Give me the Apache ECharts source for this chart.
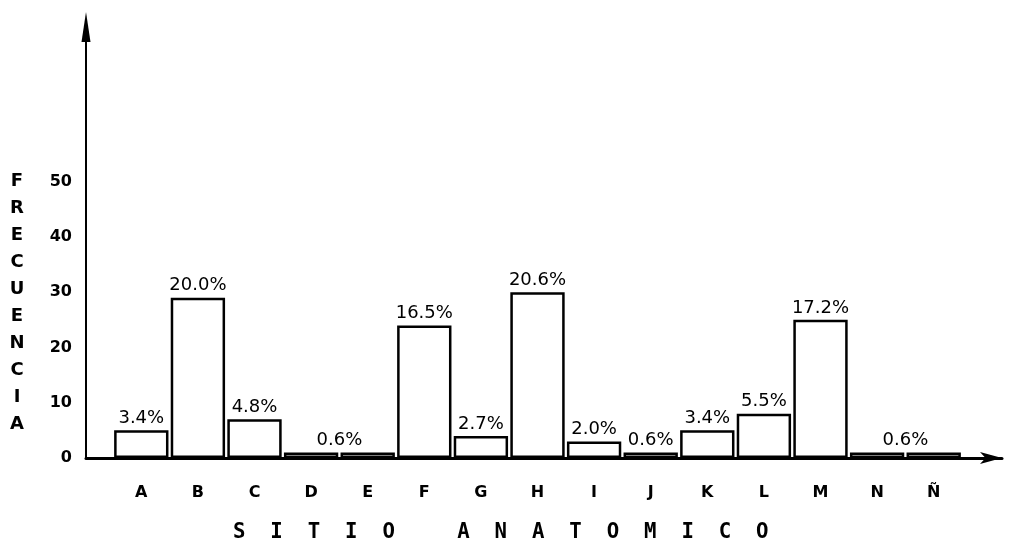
<!DOCTYPE html>
<html>
<head>
<meta charset="utf-8">
<script src="https://cdn.jsdelivr.net/npm/echarts@6/dist/echarts.min.js"></script>
<style>
html,body{margin:0;padding:0;background:#fff;}
#chart{width:1016px;height:544px;}
</style>
</head>
<body>
<div id="chart"></div>
<script>
// ---- data ----
const categories = ['A','B','C','D','E','F','G','H','I','J','K','L','M','N','Ñ'];
const frequencies = [5, 29, 7, 1, 1, 24, 4, 30, 3, 1, 5, 8, 25, 1, 1];
const percentLabels = ['3.4%','20.0%','4.8%','0.6%','','16.5%','2.7%','20.6%','2.0%','0.6%','3.4%','5.5%','17.2%','0.6%',''];
// labels that are shared by two adjacent bars (D+E, N+Ñ)
const sharedLabelIndex = [3, 13];
const yTicks = [0, 10, 20, 30, 40, 50];
const yTitle = 'FRECUENCIA';
const xTitle = 'SITIO ANATOMICO';

// ---- layout ----
const W = 1016;
const barLeft = 113, barRight = 54;
const catWidth = (W - barLeft - barRight) / categories.length;
const yMax = 78;

const barData = frequencies.map((v, i) => {
  const item = { value: v, label: { formatter: percentLabels[i] } };
  if (sharedLabelIndex.includes(i)) item.label.offset = [catWidth / 2, 0];
  return item;
});

const chart = echarts.init(document.getElementById('chart'), null, { renderer: 'canvas' });
chart.setOption({
  backgroundColor: '#ffffff',
  animation: false,
  title: [
    {
      text: yTitle.split('').join('\n'),
      left: 17, top: 168, padding: 0,
      textAlign: 'center',
      textStyle: { fontFamily: 'DejaVu Sans', fontWeight: 'bold', fontSize: 18, lineHeight: 27, color: '#000' }
    },
    {
      text: xTitle.split(' ').map(w => w.split('').join('  ')).join('     '),
      left: 233, top: 522, padding: 0,
      textStyle: { fontFamily: 'DejaVu Sans Mono', fontWeight: 'bold', fontSize: 20.7, color: '#000' }
    }
  ],
  grid: [
    { left: barLeft, right: barRight, top: 27, bottom: 86 },
    { left: 86, right: 14, top: 27, bottom: 86 }
  ],
  xAxis: [
    {
      type: 'category', gridIndex: 0, data: categories,
      axisLine: { show: false }, axisTick: { show: false },
      axisLabel: { margin: 27, fontFamily: 'DejaVu Sans', fontWeight: 'bold', fontSize: 16, color: '#000' }
    },
    {
      type: 'value', gridIndex: 1, min: 0, max: 1,
      axisLine: { show: true, symbol: ['none', 'arrow'], symbolSize: [9, 22], lineStyle: { color: '#000', width: 3 } },
      axisTick: { show: false }, axisLabel: { show: false }, splitLine: { show: false }
    }
  ],
  yAxis: [
    { type: 'value', gridIndex: 0, min: 0, max: yMax, show: false, splitLine: { show: false } },
    {
      type: 'value', gridIndex: 1, min: 0, max: yMax, interval: 10,
      axisLine: { show: true, symbol: ['none', 'triangle'], symbolSize: [9, 30], lineStyle: { color: '#000', width: 2 } },
      axisTick: { show: false }, splitLine: { show: false },
      axisLabel: {
        margin: 14, fontFamily: 'DejaVu Sans', fontWeight: 'bold', fontSize: 16, color: '#000',
        formatter: v => (yTicks.includes(v) ? String(v) : '')
      }
    }
  ],
  series: [
    {
      type: 'bar', xAxisIndex: 0, yAxisIndex: 0,
      data: barData,
      barCategoryGap: '4%',
      itemStyle: { color: '#ffffff', borderColor: '#000', borderWidth: 2.5 },
      label: {
        show: true, position: 'top', distance: 3,
        fontFamily: 'DejaVu Sans', fontSize: 18, color: '#000'
      }
    }
  ]
});
</script>
</body>
</html>
